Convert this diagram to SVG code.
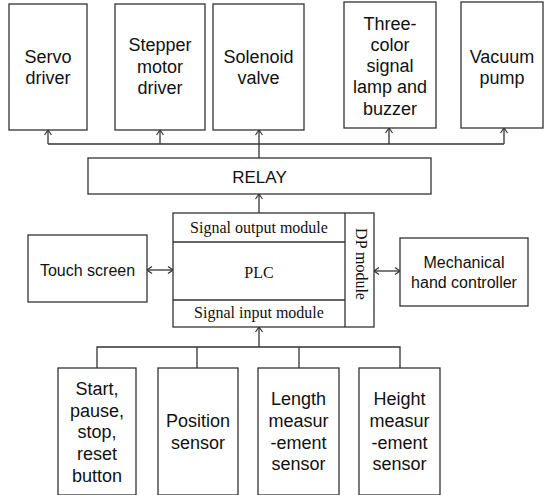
<svg xmlns="http://www.w3.org/2000/svg" width="544" height="495" viewBox="0 0 544 495">
<defs>
<marker id="ah" markerUnits="userSpaceOnUse" markerWidth="10" markerHeight="10" refX="6" refY="4" orient="auto-start-reverse" viewBox="0 0 10 8">
<path d="M1,0.5 L6,4 L1,7.5" fill="none" stroke="#333" stroke-width="1.2"/>
</marker>
</defs>
<style>
rect{fill:#fff;stroke:#333;stroke-width:1.3}
.ln{fill:none;stroke:#333;stroke-width:1.3}
.s{font-family:"Liberation Sans",Arial,sans-serif;font-size:18px;fill:#111;text-anchor:middle}
.m{font-size:16px}
.t{font-family:"Liberation Serif","Times New Roman",serif;font-size:16px;fill:#111;text-anchor:middle}
</style>
<rect x="0" y="0" width="544" height="495" style="fill:#fff;stroke:none"/>
<g id="connectors">
<path class="ln" d="M48,144 H504"/>
<path class="ln" d="M48,144 V130" marker-end="url(#ah)"/>
<path class="ln" d="M160,144 V130" marker-end="url(#ah)"/>
<path class="ln" d="M259,158 V130" marker-end="url(#ah)"/>
<path class="ln" d="M389,144 V128" marker-end="url(#ah)"/>
<path class="ln" d="M504,144 V128" marker-end="url(#ah)"/>
<path class="ln" d="M259,213 V194" marker-end="url(#ah)"/>
<path class="ln" d="M147,270 H173" marker-start="url(#ah)" marker-end="url(#ah)"/>
<path class="ln" d="M374,271 H400" marker-start="url(#ah)" marker-end="url(#ah)"/>
<path class="ln" d="M97,368 V347 H400 V368"/>
<path class="ln" d="M197,347 V368"/>
<path class="ln" d="M299,347 V368"/>
<path class="ln" d="M259,347 V327" marker-end="url(#ah)"/>
</g>
<g id="servo">
<rect x="9" y="4" width="78" height="126"/>
<text class="s" x="48" y="63">Servo</text>
<text class="s" x="48" y="84">driver</text>
</g>
<g id="stepper">
<rect x="115" y="4" width="90" height="126"/>
<text class="s" x="160" y="51">Stepper</text>
<text class="s" x="160" y="73">motor</text>
<text class="s" x="160" y="94">driver</text>
</g>
<g id="solenoid">
<rect x="213" y="4" width="91" height="126"/>
<text class="s" x="258.5" y="63">Solenoid</text>
<text class="s" x="258.5" y="84">valve</text>
</g>
<g id="lamp">
<rect x="344" y="2" width="92" height="126"/>
<text class="s" x="390" y="30">Three-</text>
<text class="s" x="390" y="51">color</text>
<text class="s" x="390" y="72">signal</text>
<text class="s" x="390" y="93">lamp and</text>
<text class="s" x="390" y="115">buzzer</text>
</g>
<g id="vacuum">
<rect x="461" y="2" width="82" height="126"/>
<text class="s" x="502" y="63">Vacuum</text>
<text class="s" x="502" y="84">pump</text>
</g>
<g id="relay">
<rect x="88" y="158" width="343" height="36"/>
<text class="s" x="259.5" y="183" style="font-size:17px">RELAY</text>
</g>
<g id="plc">
<rect x="173" y="213" width="201" height="114"/>
<path class="ln" d="M173,242 H345 M173,300 H345 M345,213 V327"/>
<text class="t" x="259" y="233">Signal output module</text>
<text class="t" x="259" y="278">PLC</text>
<text class="t" x="259" y="318">Signal input module</text>
<text class="t" transform="translate(356,264) rotate(90)">DP module</text>
</g>
<g id="touch">
<rect x="28" y="235" width="119" height="67"/>
<text class="s m" x="87.5" y="276">Touch screen</text>
</g>
<g id="mech">
<rect x="400" y="238" width="128" height="68"/>
<text class="s m" x="464" y="268">Mechanical</text>
<text class="s m" x="464" y="288">hand controller</text>
</g>
<g id="buttons">
<rect x="58" y="368" width="78" height="127"/>
<text class="s" x="97" y="395">Start,</text>
<text class="s" x="97" y="417">pause,</text>
<text class="s" x="97" y="438">stop,</text>
<text class="s" x="97" y="460">reset</text>
<text class="s" x="97" y="482">button</text>
</g>
<g id="position">
<rect x="158" y="368" width="80" height="127"/>
<text class="s" x="198" y="427">Position</text>
<text class="s" x="198" y="449">sensor</text>
</g>
<g id="length">
<rect x="258" y="368" width="81" height="127"/>
<text class="s" x="298.5" y="405">Length</text>
<text class="s" x="298.5" y="427">measur</text>
<text class="s" x="298.5" y="449">-ement</text>
<text class="s" x="298.5" y="470">sensor</text>
</g>
<g id="height">
<rect x="359" y="368" width="81" height="127"/>
<text class="s" x="399.5" y="405">Height</text>
<text class="s" x="399.5" y="427">measur</text>
<text class="s" x="399.5" y="449">-ement</text>
<text class="s" x="399.5" y="470">sensor</text>
</g>
</svg>
